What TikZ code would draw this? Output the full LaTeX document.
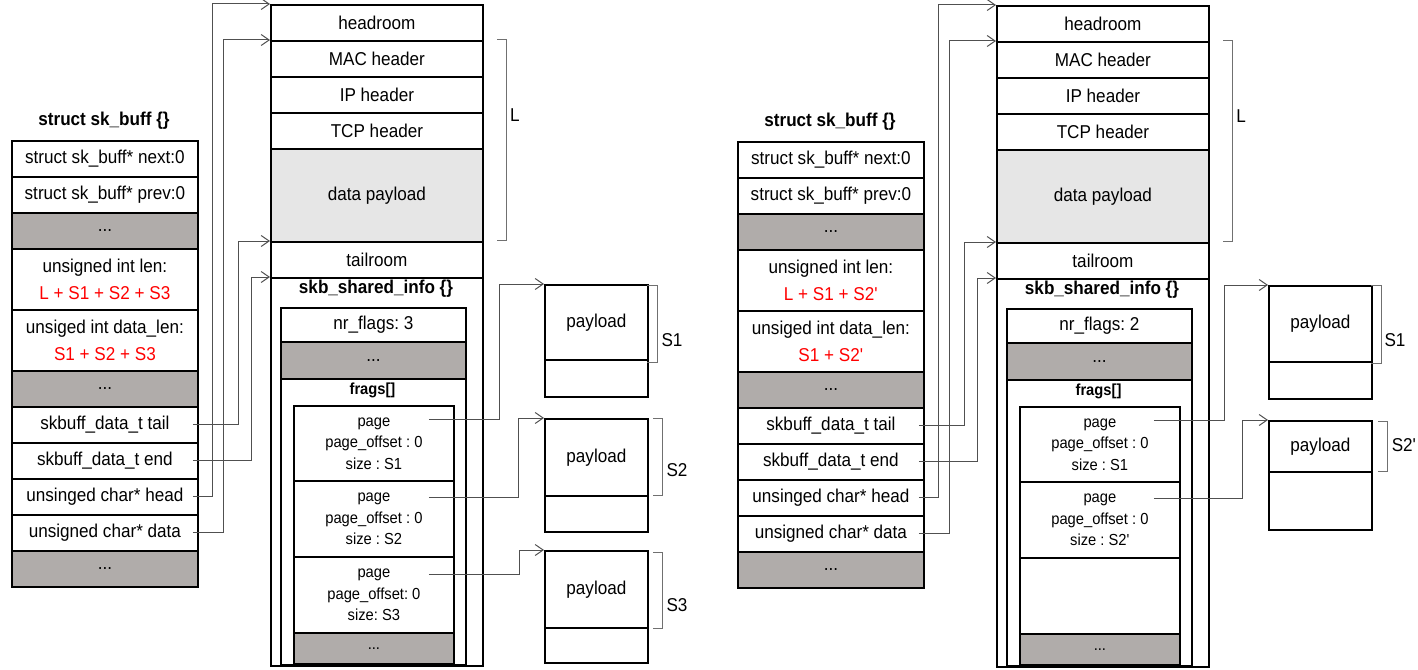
\documentclass[tikz,border=0pt]{standalone}
\usepackage{fontspec}
\setmainfont{Liberation Sans}[FakeStretch=0.92]
\usetikzlibrary{arrows.meta}
\frenchspacing
\definecolor{cellgray}{HTML}{B0ACAA}
\definecolor{paygray}{HTML}{E6E6E6}
\definecolor{linkgray}{HTML}{505050}
\definecolor{bracegray}{HTML}{707070}
\newcommand\fm{\fontsize{18.6}{27}\selectfont}
\newcommand\fs{\fontsize{16}{21.5}\selectfont}
\newcommand\pr{\textquotesingle}
\tikzset{
  cell/.style={draw, line width=1.8pt, anchor=north west, minimum width=186,
    inner sep=0pt, align=center, font=\fm},
  gcell/.style={cell, fill=cellgray},
  bcell/.style={cell, minimum width=212},
  scell/.style={cell, minimum width=185},
  fcell/.style={cell, minimum width=160, font=\fs},
  pcell/.style={cell, minimum width=103},
  title/.style={font=\fm\bfseries, inner sep=0pt},
  lab/.style={font=\fm, inner sep=0pt},
  link/.style={draw=linkgray, line width=1pt, -{Straight Barb[length=8pt,width=11pt]}},
  brace/.style={draw=bracegray, line width=1pt},
}
% #1 len, #2 data_len, #3 nr_flags, #4 #5 #6 frag texts
\newcommand\skbpanel[6]{%
  \node[title] (st) at (104,121) {struct sk\_buff \{\}};
  \node[cell, minimum height=36] (next) at (11,140) {struct sk\_buff* next:0};
  \node[cell, minimum height=36] (prev) at (11,176) {struct sk\_buff* prev:0};
  \node[gcell, minimum height=36] (g1) at (11,212) {...};
  \node[cell, minimum height=61] (len) at (11,248) {unsigned int len:\\\textcolor{red}{#1}};
  \node[cell, minimum height=61] (dlen) at (11,309) {unsiged int data\_len:\\\textcolor{red}{#2}};
  \node[gcell, minimum height=36] (g2) at (11,370) {...};
  \node[cell, minimum height=36] (tail) at (11,406) {skbuff\_data\_t tail};
  \node[cell, minimum height=36] (end) at (11,442) {skbuff\_data\_t end};
  \node[cell, minimum height=36] (head) at (11,478) {unsinged char* head};
  \node[cell, minimum height=36] (data) at (11,514) {unsigned char* data};
  \node[gcell, minimum height=36] (g3) at (11,550) {...};
  % buffer
  \node[bcell, minimum height=36] (hr) at (270,4) {headroom};
  \node[bcell, minimum height=36] (mac) at (270,40) {MAC header};
  \node[bcell, minimum height=36] (ip) at (270,76) {IP header};
  \node[bcell, minimum height=36] (tcp) at (270,112) {TCP header};
  \node[bcell, minimum height=93, fill=paygray] (pay) at (270,148) {data payload};
  \node[bcell, minimum height=36] (tr) at (270,241) {tailroom};
  \node[bcell, minimum height=388] (sh) at (270,277) {};
  \node[title] (sht) at (376,289) {skb\_shared\_info \{\}};
  \node[scell, minimum height=357] (sin) at (280,307) {};
  \node[scell, minimum height=34] (nr) at (280,307) {nr\_flags: #3};
  \node[scell, minimum height=37, fill=cellgray] (g4) at (280,341) {...};
  \node[title, font=\fs\bfseries] (frt) at (372.5,390) {frags[]};
  \node[fcell, minimum height=258] (fb) at (293,405) {};
  \node[fcell, minimum height=75] (f1) at (293,405) {#4};
  \node[fcell, minimum height=76] (f2) at (293,480) {#5};
  \node[fcell, minimum height=76] (f3) at (293,556) {#6};
  \node[fcell, minimum height=31, fill=cellgray] (g5) at (293,632) {...};
  % L bracket
  \draw[brace] (497,40) -- (506,40) -- (506,240) -- (497,240);
  \node[lab] (Ll) at (515,115) {L};
  % pointers
  \draw[link] ([xshift=-6pt]tail.east) -| (238,241) -- (tr.north west);
  \draw[link] ([xshift=-6pt]end.east) -| (251,277) -- (sh.north west);
  \draw[link] ([xshift=-6pt]head.east) -| (212,4) -- (hr.north west);
  \draw[link] ([xshift=-6pt]data.east) -| (223,40) -- (mac.north west);
}
\begin{document}
\begin{tikzpicture}[x=1pt, y=-1pt]
\useasboundingbox (0,0) rectangle (1418,669);
\begin{scope}[name prefix=L-]
  \skbpanel{L + S1 + S2 + S3}{S1 + S2 + S3}{3}%
    {page\\page\_offset : 0\\size : S1}%
    {page\\page\_offset : 0\\size : S2}%
    {page\\page\_offset: 0\\size: S3}
\end{scope}
\begin{scope}[shift={(726,1)}, name prefix=R-]
  \skbpanel{L + S1 + S2\pr}{S1 + S2\pr}{2}%
    {page\\page\_offset : 0\\size : S1}%
    {page\\page\_offset : 0\\size : S2\pr}%
    {}
\end{scope}
% left payloads
\node[pcell, minimum height=75] (p1) at (544,284) {payload};
\node[pcell, minimum height=37] (p1b) at (544,359) {};
\node[pcell, minimum height=77] (p2) at (544,418) {payload};
\node[pcell, minimum height=36] (p2b) at (544,495) {};
\node[pcell, minimum height=77] (p3) at (544,550) {payload};
\node[pcell, minimum height=35] (p3b) at (544,627) {};
\draw[brace] (647,285) -- (657,285) -- (657,362) -- (647,362);
\draw[brace] (653,418) -- (662,418) -- (662,495) -- (653,495);
\draw[brace] (653,552) -- (662,552) -- (662,628) -- (653,628);
\node[lab] (s1) at (672,340) {S1};
\node[lab] (s2) at (677,470) {S2};
\node[lab] (s3) at (677,605) {S3};
\draw[link] ([xshift=55pt,yshift=-14pt]L-f1.north) -| (499,284) -- (p1.north west);
\draw[link] ([xshift=55pt,yshift=-17pt]L-f2.north) -| (518,418) -- (p2.north west);
\draw[link] ([xshift=55pt,yshift=-18pt]L-f3.north) -| (519,550) -- (p3.north west);
% right payloads
\node[pcell, minimum height=76] (q1) at (1268,285) {payload};
\node[pcell, minimum height=37] (q1b) at (1268,361) {};
\node[pcell, minimum height=51] (q2) at (1268,420) {payload};
\node[pcell, minimum height=58] (q2b) at (1268,471) {};
\draw[brace] (1371,285) -- (1381,285) -- (1381,363) -- (1371,363);
\draw[brace] (1378,421) -- (1387,421) -- (1387,471) -- (1378,471);
\node[lab] (t1) at (1395,340) {S1};
\node[lab] (t2) at (1404,445) {S2\pr};
\draw[link] ([xshift=54pt,yshift=-14pt]R-f1.north) -| (1224,285) -- (q1.north west);
\draw[link] ([xshift=54pt,yshift=-17pt]R-f2.north) -| (1242,420) -- (q2.north west);
\end{tikzpicture}
\end{document}
